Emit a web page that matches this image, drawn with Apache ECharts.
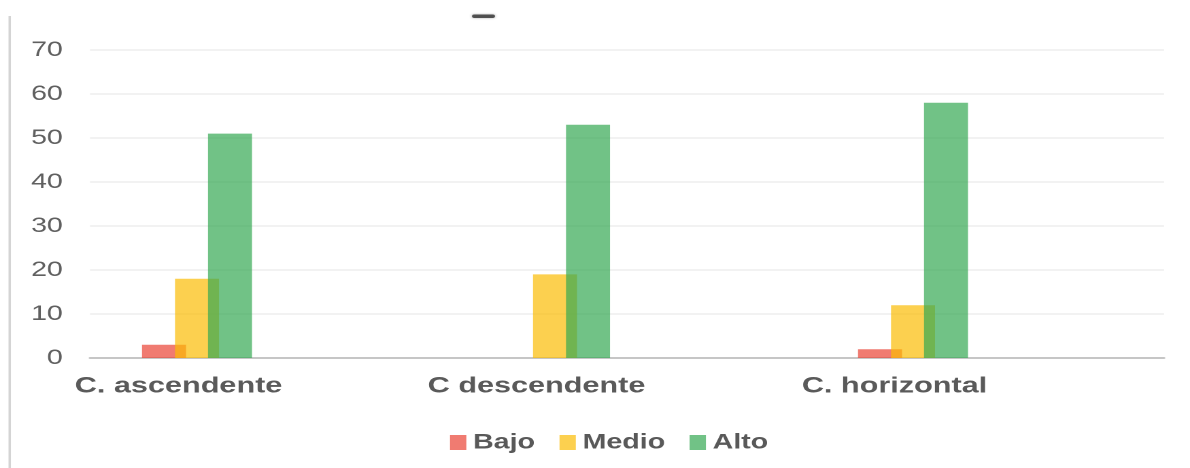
<!DOCTYPE html>
<html>
<head>
<meta charset="utf-8">
<script src="https://cdn.jsdelivr.net/npm/echarts@6.0.0/dist/echarts.min.js"></script>
<style>
  html, body { margin: 0; padding: 0; background: #ffffff; overflow: hidden; }
  #wrap { width: 1190px; height: 468px; overflow: hidden; position: relative; }
  #chart { position: absolute; left: 0; top: 0; height: 468px; transform-origin: 0 0; }
</style>
</head>
<body>
<div id="wrap"><div id="chart"></div></div>
<script>
// Data
const CATEGORIES = ['C. ascendente', 'C descendente', 'C. horizontal'];
const SERIES_NAMES = ['Bajo', 'Medio', 'Alto'];
const BAJO = [3, 0, 2];
const MEDIO = [18, 19, 12];
const ALTO = [51, 53, 58];
const Y_MIN = 0, Y_MAX = 70, Y_STEP = 10;

// The chart is laid out on a narrower canvas and widened horizontally.
const SX = 1.36;
const W = 1190 / SX;
const el = document.getElementById('chart');
el.style.width = W + 'px';
el.style.transform = 'scaleX(' + SX + ')';

const FONT = "'Liberation Sans', Arial, sans-serif";
const COLORS = ['#EA4335', '#FBBC04', '#34A853'];
const BAR_W = 44 / SX;

const chart = echarts.init(el, null, { renderer: 'canvas', devicePixelRatio: 2 });

function barSeries(name, values, color) {
  return {
    name: name,
    type: 'bar',
    data: values,
    barWidth: BAR_W,
    barGap: '-25%',
    itemStyle: { color: color, opacity: 0.7 },
    emphasis: { disabled: true }
  };
}

chart.setOption({
  animation: false,
  backgroundColor: '#ffffff',
  color: COLORS,
  grid: { left: 90 / SX, right: 26 / SX, top: 50, bottom: 110 },
  legend: {
    data: SERIES_NAMES,
    left: 450 / SX - 5,
    top: 427,
    icon: 'rect',
    itemWidth: 12,
    itemHeight: 15,
    itemGap: 18,
    textStyle: { fontFamily: FONT, fontSize: 21, fontWeight: 'bold', color: '#595959' }
  },
  xAxis: {
    type: 'category',
    data: CATEGORIES,
    axisTick: { show: false },
    axisLine: { lineStyle: { color: '#c6c6c6', width: 2 } },
    axisLabel: {
      interval: 0,
      margin: 17,
      fontFamily: FONT,
      fontSize: 22.5,
      fontWeight: 'bold',
      color: '#5a5a5a',
      padding: [0, 133, 0, 0]
    }
  },
  yAxis: {
    type: 'value',
    min: Y_MIN,
    max: Y_MAX,
    interval: Y_STEP,
    axisLine: { show: false },
    axisTick: { show: false },
    splitLine: { lineStyle: { color: '#eeeeee', width: 1.5 } },
    axisLabel: { margin: 20, fontFamily: FONT, fontSize: 21, color: '#606060' }
  },
  series: [
    barSeries(SERIES_NAMES[0], BAJO, COLORS[0]),
    barSeries(SERIES_NAMES[1], MEDIO, COLORS[1]),
    barSeries(SERIES_NAMES[2], ALTO, COLORS[2]),
    {
      // empty slot that keeps each group toward the left of its category band
      name: 'pad',
      type: 'bar',
      data: CATEGORIES.map(() => '-'),
      barWidth: 155 / SX,
      barGap: '-25%',
      silent: true,
      itemStyle: { opacity: 0 }
    }
  ],
  graphic: [
    {
      type: 'rect',
      left: 8.5 / SX,
      top: 16,
      shape: { width: 2.4 / SX, height: 452 },
      style: { fill: '#d4d4d4' },
      silent: true
    },
    {
      type: 'rect',
      left: 472 / SX,
      top: 14.5,
      shape: { width: 23 / SX, height: 3.5, r: 1.7 },
      style: { fill: 'rgba(60,60,60,0.85)', shadowBlur: 2, shadowColor: 'rgba(60,60,60,0.5)' },
      silent: true
    }
  ]
});
</script>
</body>
</html>
